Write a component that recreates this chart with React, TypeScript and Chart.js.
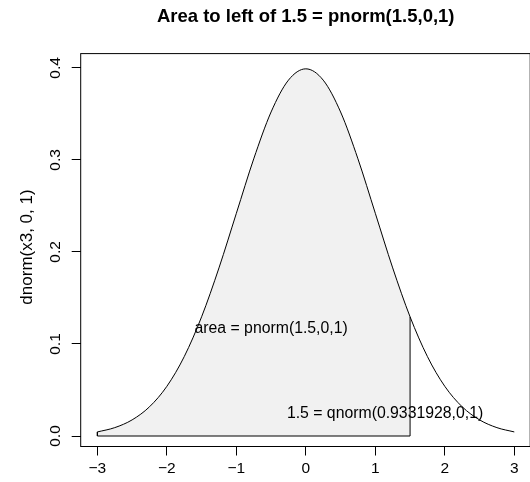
import React, { useEffect, useRef } from 'react';
import { Chart, registerables } from 'chart.js';

Chart.register(...registerables);

// ---- data ----
const xValues = [
  -3, -2.75, -2.5, -2.25, -2, -1.75, -1.5, -1.25, -1, -0.75, -0.5, -0.25, 0,
  0.25, 0.5, 0.75, 1, 1.25, 1.5, 1.75, 2, 2.25, 2.5, 2.75, 3,
];
const densityValues = [
  0.004432, 0.009094, 0.017528, 0.03174, 0.053991, 0.086277, 0.129518, 0.182649,
  0.241971, 0.301137, 0.352065, 0.386668, 0.398942, 0.386668, 0.352065, 0.301137,
  0.241971, 0.182649, 0.129518, 0.086277, 0.053991, 0.03174, 0.017528, 0.009094, 0.004432,
];
const shadeFrom = -3;
const shadeTo = 1.5;

const xTickValues = [-3, -2, -1, 0, 1, 2, 3];
const xTickLabels = ['\u22123', '\u22122', '\u22121', '0', '1', '2', '3'];
const yTickValues = [0, 0.1, 0.2, 0.3, 0.4];
const yTickLabels = ['0.0', '0.1', '0.2', '0.3', '0.4'];

const titleText = 'Area to left of 1.5 = pnorm(1.5,0,1)';
const yAxisTitle = 'dnorm(x3, 0, 1)';
const annotationTexts = ['area = pnorm(1.5,0,1)', '1.5 = qnorm(0.9331928,0,1)'];
const annotationX = [-0.5, 1.14];
const annotationY = [0.117, 0.024];

const FONT = '"Liberation Sans", Arial, Helvetica, sans-serif';

export default function App() {
  const canvasRef = useRef<HTMLCanvasElement | null>(null);

  useEffect(() => {
    const canvas = canvasRef.current;
    if (!canvas) return;

    const curve = xValues.map((x, i) => ({ x, y: densityValues[i] }));
    const shade = curve.filter((p) => p.x >= shadeFrom && p.x <= shadeTo);
    const yStart = densityValues[xValues.indexOf(shadeFrom)];
    const yEnd = densityValues[xValues.indexOf(shadeTo)];
    const edges = [
      { x: shadeFrom, y: yStart },
      { x: shadeFrom, y: 0 },
      { x: shadeTo, y: 0 },
      { x: shadeTo, y: yEnd },
    ];

    const decor = {
      id: 'decor',
      afterDraw(chart: any) {
        const { ctx, chartArea } = chart;
        const xs = chart.scales.x;
        const ys = chart.scales.y;
        ctx.save();
        // box
        ctx.strokeStyle = '#000';
        ctx.lineWidth = 1;
        ctx.strokeRect(
          chartArea.left,
          chartArea.top,
          chartArea.right + 0.2 - chartArea.left,
          chartArea.bottom - chartArea.top
        );
        // y tick labels (rotated)
        ctx.fillStyle = '#000';
        ctx.font = `15.5px ${FONT}`;
        ctx.textAlign = 'center';
        ctx.textBaseline = 'middle';
        yTickValues.forEach((v, i) => {
          const py = ys.getPixelForValue(v);
          ctx.save();
          ctx.translate(56, py);
          ctx.rotate(-Math.PI / 2);
          ctx.fillText(yTickLabels[i], 0, 0);
          ctx.restore();
        });
        // y axis title
        ctx.save();
        ctx.font = `17px ${FONT}`;
        ctx.translate(27, 247);
        ctx.rotate(-Math.PI / 2);
        ctx.fillText(yAxisTitle, 0, 0);
        ctx.restore();
        // annotations
        ctx.font = `15.8px ${FONT}`;
        annotationTexts.forEach((t, i) => {
          ctx.fillText(t, xs.getPixelForValue(annotationX[i]), ys.getPixelForValue(annotationY[i]));
        });
        // title
        ctx.font = `bold 18.5px ${FONT}`;
        ctx.fillText(titleText, (chartArea.left + chartArea.right + 0.7) / 2, 17);
        ctx.restore();
      },
    };

    const chart = new Chart(canvas, {
      type: 'line',
      data: {
        datasets: [
          {
            data: curve,
            fill: false,
            borderColor: '#000',
            borderWidth: 1,
            pointRadius: 0,
            cubicInterpolationMode: 'monotone',
            order: 0,
          },
          {
            data: edges,
            fill: false,
            borderColor: '#000',
            borderWidth: 1,
            pointRadius: 0,
            tension: 0,
            order: 1,
          },
          {
            data: shade,
            fill: 'origin',
            backgroundColor: '#f1f1f1',
            borderColor: 'rgba(0,0,0,0)',
            borderWidth: 0,
            pointRadius: 0,
            cubicInterpolationMode: 'monotone',
            order: 2,
          },
        ],
      },
      options: {
        animation: false,
        responsive: false,
        devicePixelRatio: 1,
        layout: { padding: { top: 53.6, left: 0, right: 0, bottom: 0 } },
        plugins: {
          legend: { display: false },
          tooltip: { enabled: false },
          title: { display: false },
          filler: { drawTime: 'beforeDatasetsDraw' },
        },
        events: [],
        scales: {
          x: {
            type: 'linear',
            min: -3.24,
            max: 3.226,
            afterBuildTicks: (s: any) => {
              s.ticks = xTickValues.map((value) => ({ value }));
            },
            afterFit: (s: any) => {
              s.height = 35.5;
            },
            grid: {
              display: true,
              drawOnChartArea: false,
              drawTicks: true,
              tickLength: 9,
              color: '#000',
              lineWidth: 1,
            },
            border: { display: false },
            ticks: {
              autoSkip: false,
              maxRotation: 0,
              minRotation: 0,
              padding: 4,
              color: '#000',
              font: { family: FONT, size: 15.5 },
              callback: (v: any) => {
                const idx = xTickValues.indexOf(Number(v));
                return idx >= 0 ? xTickLabels[idx] : '';
              },
            },
          },
          y: {
            type: 'linear',
            min: -0.0114,
            max: 0.4155,
            afterBuildTicks: (s: any) => {
              s.ticks = yTickValues.map((value) => ({ value }));
            },
            afterFit: (s: any) => {
              s.width = 80.7;
            },
            grid: {
              display: true,
              drawOnChartArea: false,
              drawTicks: true,
              tickLength: 9,
              color: '#000',
              lineWidth: 1,
            },
            border: { display: false },
            ticks: { display: false },
          },
        },
      },
      plugins: [decor],
    } as any);

    return () => {
      chart.destroy();
    };
  }, []);

  return (
    <div style={{ position: 'fixed', left: 0, top: 0, width: 530, height: 482, background: '#fff' }}>
      <canvas ref={canvasRef} width={530} height={482} style={{ display: 'block', width: 530, height: 482 }} />
    </div>
  );
}
